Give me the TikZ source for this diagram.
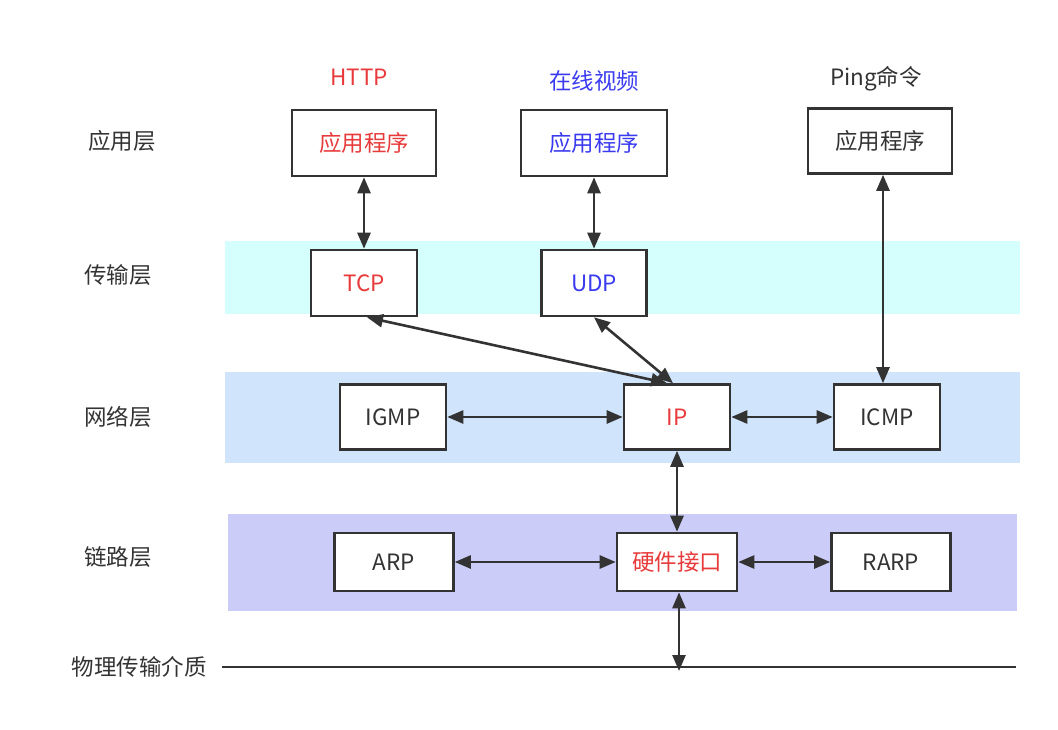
\documentclass[tikz,border=0pt]{standalone}
\usepackage{fontspec}
\newfontfamily\cjk{Noto Sans CJK SC}
\usetikzlibrary{arrows.meta}
\definecolor{txt}{RGB}{51,51,51}
\definecolor{myred}{RGB}{232,58,58}
\definecolor{myblue}{RGB}{58,58,240}
\definecolor{bandT}{RGB}{212,255,252}
\definecolor{bandN}{RGB}{208,228,252}
\definecolor{bandL}{RGB}{204,204,248}
\tikzset{
  every node/.style={font=\cjk\fontsize{22.5}{27}\selectfont, text=txt},
  box/.style={draw=txt, line width=2.6pt, fill=white, inner sep=0pt, minimum width=106pt, minimum height=65pt},
  arr/.style={draw=txt, line width=2.6pt, {Triangle[length=16pt,width=13pt]}-{Triangle[length=16pt,width=13pt]}},
  lbl/.style={anchor=center},
}
\begin{document}
\begin{tikzpicture}[x=1pt,y=-1pt]
\useasboundingbox (0,0) rectangle (1058,730);
% bands
\fill[bandT] (225,241) rectangle (1020,314);
\fill[bandN] (225,372) rectangle (1020,463);
\fill[bandL] (228,514) rectangle (1017,611);
% layer labels
\node[lbl] (l1) at (122,141) {应用层};
\node[lbl] (l2) at (118,275) {传输层};
\node[lbl] (l3) at (118,417) {网络层};
\node[lbl] (l4) at (118,557) {链路层};
\node[lbl] (l5) at (139,667) {物理传输介质};
% top titles
\node[lbl, text=myred] (t1) at (359,77) {HTTP};
\node[lbl, text=myblue] (t2) at (594,81) {在线视频};
\node[lbl] (t3) at (876,79) {Ping命令};
% boxes
\node[box, minimum width=144pt, minimum height=66pt, text=myred] (app1) at (364,143) {应用程序};
\node[box, minimum width=146pt, minimum height=66pt, text=myblue] (app2) at (594,143) {应用程序};
\node[box, minimum width=144pt, minimum height=65pt] (app3) at (880,141) {应用程序};
\node[box, minimum height=66pt, text=myred] (tcp) at (364,283) {TCP};
\node[box, minimum width=105pt, minimum height=66pt, text=myblue] (udp) at (594,283) {UDP};
\node[box] (igmp) at (393,417) {IGMP};
\node[box, text=myred] (ip) at (677,417) {IP};
\node[box] (icmp) at (887,417) {ICMP};
\node[box, minimum width=119pt, minimum height=58pt] (arp) at (394,562) {ARP};
\node[box, minimum width=120pt, minimum height=58pt, text=myred] (hw) at (677,562) {硬件接口};
\node[box, minimum width=119pt, minimum height=58pt] (rarp) at (891,562) {RARP};
% physical line
\coordinate (p0) at (222,667);
\coordinate (p1) at (1016,667);
\coordinate (phys) at (679,671);
\draw[txt, line width=2.6pt] (p0) -- (p1);
% connectors
\draw[arr] (app1.south) -- (tcp.north);
\draw[arr] (app2.south) -- (udp.north);
\draw[arr] ([xshift=3pt]app3.south) -- ([xshift=-4pt]icmp.north);
\draw[arr] ([xshift=3pt]tcp.south) -- ([xshift=-10pt]ip.north);
\draw[arr] (udp.south) -- ([xshift=-4pt]ip.north);
\draw[arr] (igmp.east) -- (ip.west);
\draw[arr] (ip.east) -- (icmp.west);
\draw[arr] (ip.south) -- (hw.north);
\draw[arr] (arp.east) -- (hw.west);
\draw[arr] (hw.east) -- (rarp.west);
\draw[arr] ([xshift=2pt]hw.south) -- (phys);
\end{tikzpicture}
\end{document}
